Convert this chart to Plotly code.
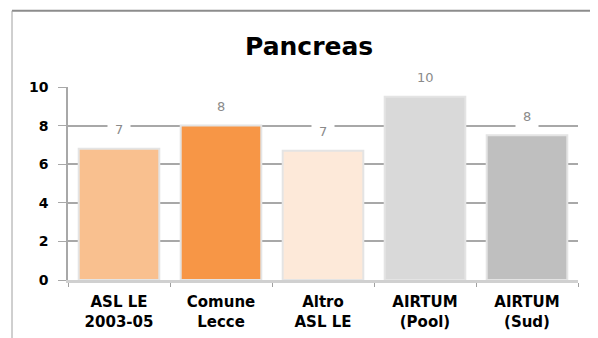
import plotly.graph_objects as go

categories = ["ASL LE<br>2003-05", "Comune<br>Lecce", "Altro<br>ASL LE", "AIRTUM<br>(Pool)", "AIRTUM<br>(Sud)"]
values = [6.8, 8.0, 6.7, 9.5, 7.5]
value_labels = ["7", "8", "7", "10", "8"]
bar_colors = ["#F9C08F", "#F79646", "#FDE9D9", "#D9D9D9", "#BFBFBF"]
y_ticks = [0, 2, 4, 6, 8, 10]

fig = go.Figure()
fig.add_trace(go.Bar(
    x=categories, y=values,
    marker=dict(color=bar_colors, line=dict(color="#E4E4E4", width=2)),
    width=0.79,
))

for c, v, t in zip(categories, values, value_labels):
    fig.add_annotation(x=c, y=v, text=t, showarrow=False, yshift=19,
                       font=dict(family="DejaVu Sans", size=13, color="#8A8A8A"),
                       bgcolor="white", borderpad=7)

fig.add_annotation(text="<b>Pancreas</b>", xref="paper", yref="paper", x=0.472, y=1.212,
                   showarrow=False, font=dict(family="DejaVu Sans", size=25, color="black"),
                   xanchor="center", yanchor="middle")

# frame lines
fig.add_shape(type="line", xref="paper", yref="paper", x0=-0.1098, x1=1.04, y0=1.395, y1=1.395,
              line=dict(color="#8C8C8C", width=2))
fig.add_shape(type="line", xref="paper", yref="paper", x0=-0.1098, x1=-0.1098, y0=-0.31, y1=1.395,
              line=dict(color="#A0A0A0", width=1))

fig.update_layout(
    width=590, height=330,
    margin=dict(l=60, r=20, t=79, b=58),
    paper_bgcolor="white", plot_bgcolor="white",
    showlegend=False,
    xaxis=dict(tickson="boundaries", ticks="outside", ticklen=4, tickcolor="#A0A0A0",
               showline=True, linecolor="#D0D0D0", linewidth=3,
               ticklabelstandoff=6, automargin=False,
               tickfont=dict(family="DejaVu Sans", size=15, color="black"),
               tickprefix="<b>", ticksuffix="</b>"),
    yaxis=dict(range=[0, 10], tickvals=y_ticks, ticktext=[f"<b>{v}</b>" for v in y_ticks],
               showgrid=True, gridcolor="#A8A8A8", gridwidth=1.5,
               ticks="outside", ticklen=8, tickcolor="#A8A8A8",
               showline=True, linecolor="#A8A8A8", linewidth=1.5,
               zeroline=False, ticklabelstandoff=7, automargin=False,
               tickfont=dict(family="DejaVu Sans", size=14, color="black")),
    bargap=0.2,
)

fig.write_html("out.html")
